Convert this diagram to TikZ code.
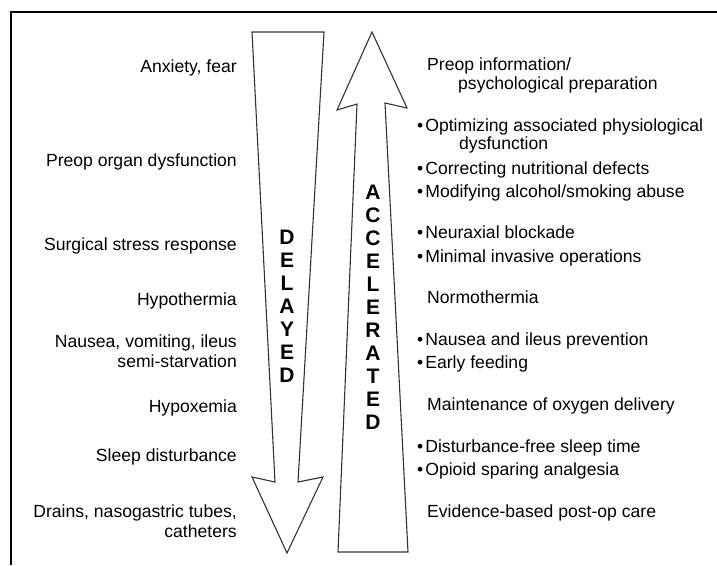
\documentclass[tikz,border=0pt]{standalone}
\usepackage{fontspec}
\setmainfont{Liberation Sans}
\begin{document}
\begin{tikzpicture}[x=1pt,y=-1pt,
  lt/.style={font=\fontsize{17.6}{20}\selectfont, inner sep=0pt, anchor=base east},
  rt/.style={font=\fontsize{17.6}{20}\selectfont, inner sep=0pt, anchor=base west},
  arr/.style={draw=black!80, line width=1.1pt, line join=miter},
  vword/.style={font=\fontsize{21}{23}\selectfont\bfseries, inner sep=0pt, anchor=north, align=center}]
\useasboundingbox (0,0) rectangle (717,565);
\draw[line width=1.5pt] (11,565) -- (11,12) -- (717,12);
% delayed arrow
\draw[arr] (252,32) -- (324,32) -- (298,482) -- (323,477) -- (287,553) -- (252,477) -- (275,482) -- cycle;
% accelerated arrow
\draw[arr] (372,32) -- (407,108) -- (385,103) -- (408,552) -- (338,552) -- (357,104) -- (337,110) -- cycle;
\node[vword] (del) at (287,230) {D\\E\\L\\A\\Y\\E\\D};
\node[vword] (acc) at (373,185) {A\\C\\C\\E\\L\\E\\R\\A\\T\\E\\D};
% left texts
\node[lt] (l1) at (237,72) {Anxiety, fear};
\node[lt] (l2) at (237,166) {Preop organ dysfunction};
\node[lt] (l3) at (237,250) {Surgical stress response};
\node[lt] (l4) at (237,305) {Hypothermia};
\node[lt] (l5a) at (237,347) {Nausea, vomiting, ileus};
\node[lt] (l5b) at (237,367) {semi-starvation};
\node[lt] (l6) at (237,412) {Hypoxemia};
\node[lt] (l7) at (237,461) {Sleep disturbance};
\node[lt] (l8a) at (237,517) {Drains, nasogastric tubes,};
\node[lt] (l8b) at (237,537) {catheters};
% right texts
\node[rt] (r1a) at (427,70) {Preop information/};
\node[rt] (r1b) at (458,89) {psychological preparation};
\node[rt] (r2a) at (417,131) {•\kern2pt Optimizing associated physiological};
\node[rt] (r2b) at (459,149) {dysfunction};
\node[rt] (r3) at (417,174) {•\kern2pt Correcting nutritional defects};
\node[rt] (r4) at (417,197) {•\kern2pt Modifying alcohol/smoking abuse};
\node[rt] (r5) at (417,238) {•\kern2pt Neuraxial blockade};
\node[rt] (r6) at (417,262) {•\kern2pt Minimal invasive operations};
\node[rt] (r7) at (427,303) {Normothermia};
\node[rt] (r8) at (417,345) {•\kern2pt Nausea and ileus prevention};
\node[rt] (r9) at (417,368) {•\kern2pt Early feeding};
\node[rt] (r10) at (427,410) {Maintenance of oxygen delivery};
\node[rt] (r11) at (417,452) {•\kern2pt Disturbance-free sleep time};
\node[rt] (r12) at (417,475) {•\kern2pt Opioid sparing analgesia};
\node[rt] (r13) at (427,517) {Evidence-based post-op care};
\end{tikzpicture}
\end{document}
